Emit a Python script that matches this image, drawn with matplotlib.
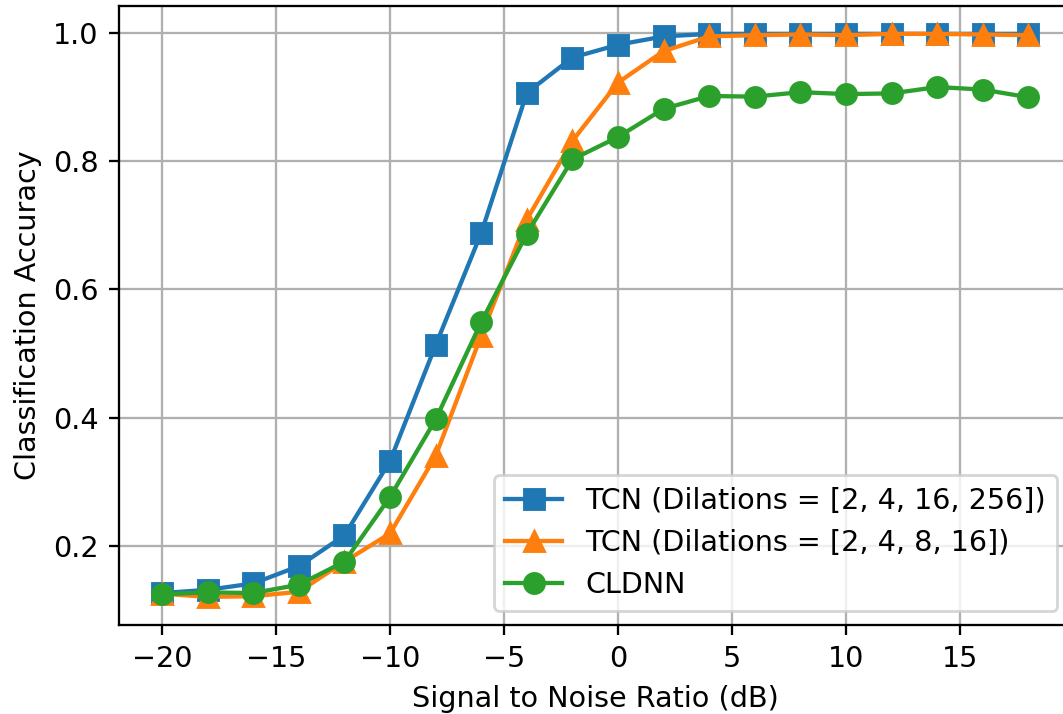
import numpy as np
import matplotlib
matplotlib.use("Agg")
import matplotlib.pyplot as plt

# SNR values (dB)
snr = np.arange(-20, 20, 2)

# Accuracy per model
acc_tcn_256 = [0.126, 0.131, 0.141, 0.168, 0.216, 0.332, 0.513, 0.688, 0.907, 0.962,
               0.982, 0.995, 0.999, 0.999, 0.999, 0.999, 0.999, 0.999, 0.999, 0.999]
acc_tcn_16 = [0.125, 0.120, 0.121, 0.128, 0.175, 0.219, 0.340, 0.528, 0.709, 0.832,
              0.923, 0.972, 0.995, 0.997, 0.998, 0.997, 0.999, 0.999, 0.998, 0.997]
acc_cldnn = [0.124, 0.127, 0.126, 0.139, 0.175, 0.276, 0.397, 0.549, 0.687, 0.803,
             0.838, 0.882, 0.902, 0.901, 0.908, 0.905, 0.906, 0.916, 0.912, 0.900]

labels = ["TCN (Dilations = [2, 4, 16, 256])",
          "TCN (Dilations = [2, 4, 8, 16])",
          "CLDNN"]

DPI = 206
fig = plt.figure(figsize=(1063 / DPI, 714 / DPI), dpi=DPI)
ax = fig.add_axes([0.1117, 0.1246, 0.8965, 0.8674])

ax.plot(snr, acc_tcn_256, marker="s", markersize=7, label=labels[0])
ax.plot(snr, acc_tcn_16, marker="^", markersize=7, label=labels[1])
ax.plot(snr, acc_cldnn, marker="o", markersize=7, label=labels[2])

ax.set_xlabel("Signal to Noise Ratio (dB)")
ax.set_ylabel("Classification Accuracy")
ax.set_yticks([0.2, 0.4, 0.6, 0.8, 1.0])
ax.grid(True)
ax.legend(loc="lower right")

fig.savefig("out.png", dpi=DPI)
